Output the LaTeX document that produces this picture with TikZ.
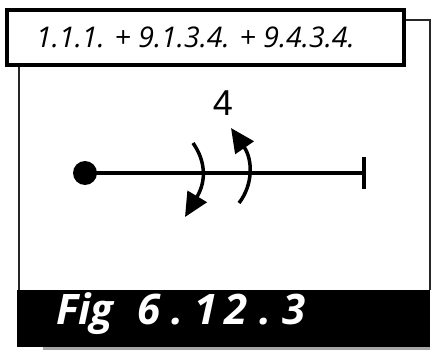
\documentclass[tikz,border=0pt]{standalone}
\usepackage{fontspec}
\setmainfont{Open Sans}
\usetikzlibrary{arrows.meta}
\tikzset{
  frame/.style={line width=2pt, draw=black!85},
  axis/.style={line width=3.5pt, line cap=butt},
  rot/.style={line width=3.5pt, -{Triangle[length=24pt,width=22pt]}},
}
\newcommand{\gp}{\hspace{11pt}}
\begin{document}
\begin{tikzpicture}[x=1pt,y=-1pt]
\useasboundingbox (0,0) rectangle (433,350);
% outer frame
\draw[frame] (404,20) -- (430,20) -- (430,290);
\draw[frame] (19,65) -- (19,290);
% shadow
\fill[black!35] (43,346) rectangle (430,350);
% caption bar
\fill[black] (17,290) rectangle (430,347);
\node[text=white, font=\fontsize{42}{42}\selectfont\bfseries\itshape, anchor=west, inner sep=0pt] (cap) at (56,314) {Fig\hspace{24pt}6\gp.\gp1\hspace{7pt}2\gp.\gp3};
% label box
\node[draw, line width=3.5pt, minimum width=397pt, minimum height=55pt, inner sep=0pt] (lbl) at (205.5,37.5) {};
\node[font=\fontsize{28.5}{28.5}\selectfont\itshape, anchor=west, inner sep=0pt] (lbltext) at (36,37.5) {1.1.1. + 9.1.3.4. + 9.4.3.4.};
% diagram
\node[circle, fill=black, minimum size=24pt, inner sep=0pt] (dot) at (85,173) {};
\coordinate (end) at (364,173);
\draw[axis] (dot.center) -- (end);
\draw[line width=4pt] (364,157) -- (364,189);
\node[font=\fontsize{36}{36}\selectfont\fontspec{Liberation Sans}] (four) at (223,103) {4};
\coordinate (a1s) at (193,143);
\coordinate (a1e) at (185,217);
\coordinate (a2s) at (239,203);
\coordinate (a2e) at (231,128);
\draw[rot] (a1s) .. controls (205,160) and (207,180) .. (a1e);
\draw[rot] (a2s) .. controls (253,185) and (253,160) .. (a2e);
\end{tikzpicture}
\end{document}
